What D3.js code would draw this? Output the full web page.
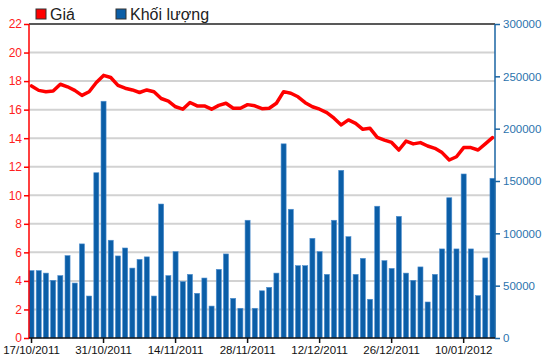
<!DOCTYPE html>
<html>
<head>
<meta charset="utf-8">
<script src="https://cdn.jsdelivr.net/npm/d3@7"></script>
<style>
  body { margin: 0; background: #fff; }
  svg { display: block; font-family: Arial, "Liberation Sans", sans-serif; }
</style>
</head>
<body>
<div id="vis"></div>
<script>
// trading days shown on the chart (02/01/2012 market closed)
var dates = [
  "17/10/2011","18/10/2011","19/10/2011","20/10/2011","21/10/2011",
  "24/10/2011","25/10/2011","26/10/2011","27/10/2011","28/10/2011",
  "31/10/2011","01/11/2011","02/11/2011","03/11/2011","04/11/2011",
  "07/11/2011","08/11/2011","09/11/2011","10/11/2011","11/11/2011",
  "14/11/2011","15/11/2011","16/11/2011","17/11/2011","18/11/2011",
  "21/11/2011","22/11/2011","23/11/2011","24/11/2011","25/11/2011",
  "28/11/2011","29/11/2011","30/11/2011","01/12/2011","02/12/2011",
  "05/12/2011","06/12/2011","07/12/2011","08/12/2011","09/12/2011",
  "12/12/2011","13/12/2011","14/12/2011","15/12/2011","16/12/2011",
  "19/12/2011","20/12/2011","21/12/2011","22/12/2011","23/12/2011",
  "26/12/2011","27/12/2011","28/12/2011","29/12/2011","30/12/2011",
  "03/01/2012","04/01/2012","05/01/2012","06/01/2012","09/01/2012",
  "10/01/2012","11/01/2012","12/01/2012","13/01/2012","16/01/2012"
];

// Giá
var price = [
  17.66, 17.35, 17.26, 17.3, 17.78, 17.6, 17.35, 17.0, 17.25, 17.9,
  18.4, 18.25, 17.7, 17.5, 17.38, 17.2, 17.38, 17.25, 16.78, 16.6,
  16.2, 16.03, 16.5, 16.26, 16.26, 16.03, 16.3, 16.45, 16.1, 16.1,
  16.35, 16.27, 16.07, 16.1, 16.45, 17.26, 17.15, 16.9, 16.49, 16.2,
  16.03, 15.79, 15.4, 14.93, 15.28, 15.04, 14.62, 14.69, 14.06, 13.87,
  13.7, 13.17, 13.8, 13.6, 13.69, 13.45, 13.29, 12.99, 12.47, 12.7,
  13.34, 13.34, 13.17, 13.6, 14.04
];

// Khối lượng
var volume = [
  64400, 64400, 62000, 55100, 59600, 78700, 52500, 89900, 40100, 157900,
  226200, 93400, 78400, 86000, 66800, 75100, 77500, 40100, 128000, 59600,
  82500, 53900, 60800, 42700, 57300, 30500, 65600, 80300, 37900, 28400,
  112500, 28400, 45100, 48400, 62000, 185500, 123000, 69100, 69100, 95200,
  82500, 60800, 112500, 160200, 96800, 60800, 76100, 37000, 125900, 73900,
  66500, 116200, 62000, 55100, 67900, 34400, 60800, 85100, 134000, 85100,
  156700, 85100, 40500, 76500, 152600
];

var priceTicks = d3.range(0, 23, 2);
var volumeTicks = [0, 50000, 100000, 150000, 200000, 250000, 300000];
var dateTicks = ["17/10/2011","31/10/2011","14/11/2011","28/11/2011",
                 "12/12/2011","26/12/2011","10/01/2012"];

var width = 550, height = 364;
var plot = { left: 29, right: 495, top: 24, bottom: 338 };

var svg = d3.select('#vis').append('svg')
    .attr('width', width)
    .attr('height', height);

var x = d3.scaleBand()
    .domain(dates)
    .range([plot.left, plot.right])
    .paddingInner(0.3)
    .paddingOuter(0);

var yPrice = d3.scaleLinear().domain([0, 22]).range([plot.bottom, plot.top]);
var yVol = d3.scaleLinear().domain([0, 300000]).range([plot.bottom, plot.top]);

// grid lines
svg.append('g')
  .selectAll('line')
  .data(priceTicks.filter(function (d) { return d > 0 && d < 22; }))
  .enter().append('line')
    .attr('x1', plot.left).attr('x2', plot.right)
    .attr('y1', function (d) { return yPrice(d); })
    .attr('y2', function (d) { return yPrice(d); })
    .attr('stroke', '#d2d2d2')
    .attr('stroke-width', 2);

// top border
svg.append('line')
    .attr('x1', plot.left).attr('x2', plot.right)
    .attr('y1', plot.top).attr('y2', plot.top)
    .attr('stroke', '#222')
    .attr('stroke-width', 1.5);

// volume bars
svg.append('g')
  .selectAll('rect')
  .data(volume)
  .enter().append('rect')
    .attr('x', function (d, i) { return x(dates[i]); })
    .attr('y', function (d) { return yVol(d); })
    .attr('width', x.bandwidth())
    .attr('height', function (d) { return plot.bottom - yVol(d); })
    .attr('fill', '#0b5ea7')
    .attr('stroke', '#4f8fcf')
    .attr('stroke-width', 0.6);

// price line
var line = d3.line()
    .x(function (d, i) { return x(dates[i]) + x.bandwidth() / 2; })
    .y(function (d) { return yPrice(d); });

svg.append('path')
    .datum(price)
    .attr('d', line)
    .attr('fill', 'none')
    .attr('stroke', '#ff0000')
    .attr('stroke-width', 3.5)
    .attr('stroke-linejoin', 'round')
    .attr('stroke-linecap', 'round');

// left axis
var leftAxis = svg.append('g')
    .attr('transform', 'translate(' + plot.left + ',0)')
    .call(d3.axisLeft(yPrice).tickValues(priceTicks).tickSize(5).tickPadding(2));
leftAxis.select('.domain').attr('stroke', '#ff0000').attr('stroke-width', 1.5)
    .attr('d', 'M0,' + plot.top + 'V' + plot.bottom);
leftAxis.selectAll('.tick line').attr('stroke', '#ff0000').attr('stroke-width', 1.5);
leftAxis.selectAll('.tick text').attr('fill', '#ff2020').style('font-size', '12px');

// right axis
var rightAxis = svg.append('g')
    .attr('transform', 'translate(' + plot.right + ',0)')
    .call(d3.axisRight(yVol).tickValues(volumeTicks).tickSize(5).tickPadding(3)
      .tickFormat(d3.format('d')));
rightAxis.select('.domain').attr('stroke', '#1a64a3').attr('stroke-width', 1.5)
    .attr('d', 'M0,' + plot.top + 'V' + plot.bottom);
rightAxis.selectAll('.tick line').attr('stroke', '#1a64a3').attr('stroke-width', 1.5);
rightAxis.selectAll('.tick text').attr('fill', '#2b73ad').style('font-size', '11.5px');

// bottom axis
var bottomAxis = svg.append('g')
    .attr('transform', 'translate(0,' + plot.bottom + ')')
    .call(d3.axisBottom(x).tickValues(dateTicks).tickSize(5).tickPadding(3));
bottomAxis.select('.domain').attr('stroke', '#111').attr('stroke-width', 1.5)
    .attr('d', 'M' + plot.left + ',0H' + plot.right);
bottomAxis.selectAll('.tick line').attr('stroke', '#111').attr('stroke-width', 1.5);
bottomAxis.selectAll('.tick text').attr('fill', '#111').style('font-size', '11.5px');

// legend
var legend = [
  { label: 'Giá', color: '#ff0000', x: 36 },
  { label: 'Khối lượng', color: '#0b5ea7', x: 116 }
];
var lg = svg.append('g').selectAll('g').data(legend).enter().append('g')
    .attr('transform', function (d) { return 'translate(' + d.x + ',9)'; });
lg.append('rect')
    .attr('width', 10).attr('height', 10)
    .attr('fill', function (d) { return d.color; })
    .attr('stroke', '#333').attr('stroke-width', 1);
lg.append('text')
    .attr('x', 14).attr('y', 11)
    .style('font-size', '16px')
    .attr('fill', '#222')
    .text(function (d) { return d.label; });
</script>
</body>
</html>
